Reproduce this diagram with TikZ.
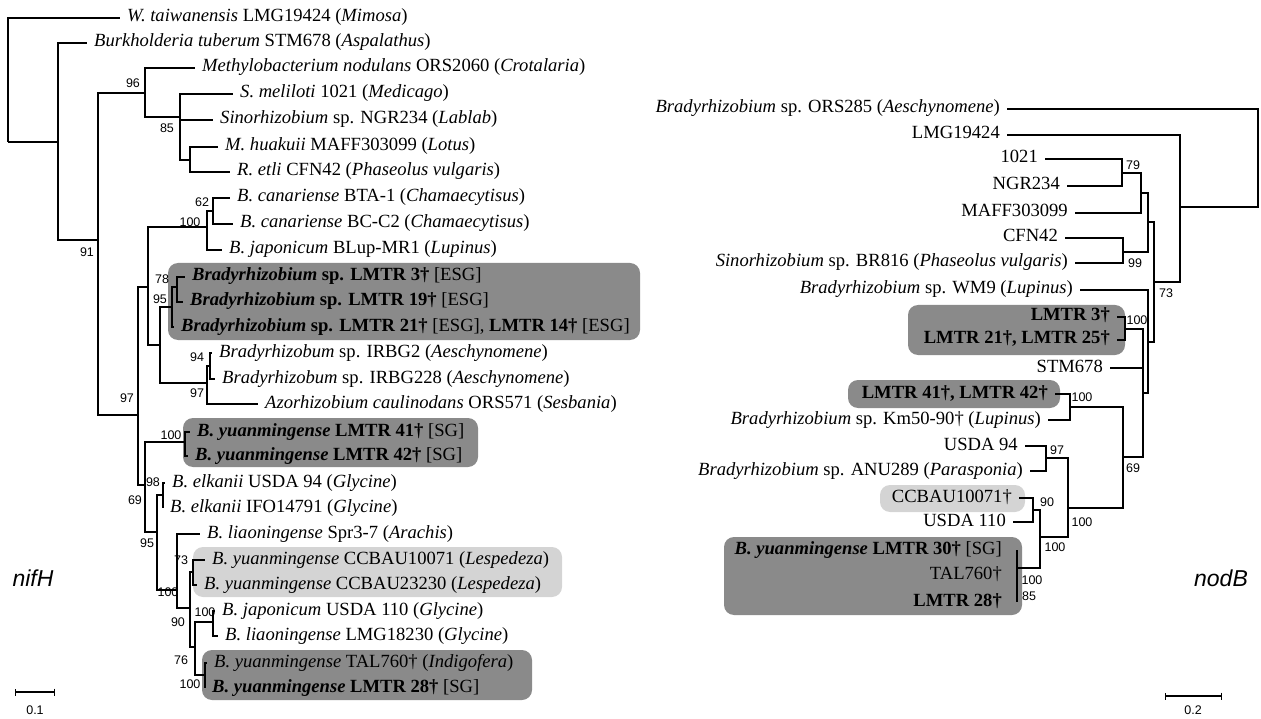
\documentclass[tikz,border=0pt]{standalone}
\usepackage{fontspec}
\setmainfont{Liberation Serif}
\setsansfont{Liberation Sans}
\usepackage{tikz}
\usetikzlibrary{arrows.meta}
\usepackage{xcolor}

\newcommand{\leaffont}{\fontsize{18.6}{21}\selectfont}
\newcommand{\bsfont}{\sffamily\fontsize{12.5}{14}\selectfont}
\definecolor{darkbox}{RGB}{138,138,138}
\definecolor{lightbox}{RGB}{212,212,212}

\tikzset{
  branch/.style={line width=2.7pt},
  leafL/.style={anchor=west, inner xsep=7pt, inner ysep=0pt, text height=12pt, text depth=4pt, font=\leaffont},
  leafR/.style={anchor=east, inner xsep=7pt, inner ysep=0pt, text height=12pt, text depth=4pt, font=\leaffont},
  boot/.style={font=\bsfont, inner sep=0pt},
  cladebox/.style={rounded corners=10pt},
}

\begin{document}
\begin{tikzpicture}[x=1pt,y=-1pt]
    \useasboundingbox (0,0) rectangle (1261,719);

    % Shaded clades, left tree
    \fill[cladebox, darkbox] (168,263) rectangle (640,340);
    \fill[cladebox, darkbox] (183,418) rectangle (478,467);
    \fill[cladebox, lightbox] (193,547) rectangle (562,597);
    \fill[cladebox, darkbox] (202,650) rectangle (532,700);

    % Shaded clades, right tree
    \fill[cladebox, darkbox] (908,305) rectangle (1125,355);
    \fill[cladebox, darkbox] (848,380) rectangle (1060,408);
    \fill[cladebox, lightbox] (880,485) rectangle (1025,512);
    \fill[cladebox, darkbox] (724,537) rectangle (1022,615);

    % nifH leaves
    \node[leafL] (wtai) at (120,18) {\textit{W. taiwanensis} LMG19424 (\textit{Mimosa})};
    \node[leafL] (btub) at (87,43) {\textit{Burkholderia tuberum} STM678 (\textit{Aspalathus})};
    \node[leafL] (mnod) at (195,68) {\textit{Methylobacterium nodulans} ORS2060 (\textit{Crotalaria})};
    \node[leafL] (smel) at (233,94) {\textit{S. meliloti} 1021 (\textit{Medicago})};
    \node[leafL] (sngr) at (213,120) {\textit{Sinorhizobium} sp. NGR234 (\textit{Lablab})};
    \node[leafL] (mhua) at (218,147) {\textit{M. huakuii} MAFF303099 (\textit{Lotus})};
    \node[leafL] (reti) at (230,172) {\textit{R. etli} CFN42 (\textit{Phaseolus vulgaris})};
    \node[leafL] (bcbt) at (230,198) {\textit{B. canariense} BTA-1 (\textit{Chamaecytisus})};
    \node[leafL] (bcbc) at (233,224) {\textit{B. canariense} BC-C2 (\textit{Chamaecytisus})};
    \node[leafL] (bjbl) at (222,250) {\textit{B. japonicum} BLup-MR1 (\textit{Lupinus})};
    \node[leafL] (lm3) at (185,277) {\textbf{\textit{Bradyrhizobium} sp. LMTR 3†} [ESG]};
    \node[leafL] (lm19) at (183,302) {\textbf{\textit{Bradyrhizobium} sp. LMTR 19†} [ESG]};
    \node[leafL] (lm21) at (174,327) {\textbf{\textit{Bradyrhizobium} sp. LMTR 21†} [ESG], \textbf{LMTR 14†} [ESG]};
    \node[leafL] (irb2) at (212,353) {\textit{Bradyrhizobum} sp. IRBG2 (\textit{Aeschynomene})};
    \node[leafL] (irb228) at (215,379) {\textit{Bradyrhizobum} sp. IRBG228 (\textit{Aeschynomene})};
    \node[leafL] (azor) at (258,404) {\textit{Azorhizobium caulinodans} ORS571 (\textit{Sesbania})};
    \node[leafL] (lm41) at (190,432) {\textbf{\textit{B. yuanmingense} LMTR 41†} [SG]};
    \node[leafL] (lm42) at (188,456) {\textbf{\textit{B. yuanmingense} LMTR 42†} [SG]};
    \node[leafL] (bel94) at (165,483) {\textit{B. elkanii} USDA 94 (\textit{Glycine})};
    \node[leafL] (belifo) at (163,508) {\textit{B. elkanii} IFO14791 (\textit{Glycine})};
    \node[leafL] (blspr) at (200,534) {\textit{B. liaoningense} Spr3-7 (\textit{Arachis})};
    \node[leafL] (byc1) at (205,560) {\textit{B. yuanmingense} CCBAU10071 (\textit{Lespedeza})};
    \node[leafL] (byc2) at (197,585) {\textit{B. yuanmingense} CCBAU23230 (\textit{Lespedeza})};
    \node[leafL] (bj110) at (215,611) {\textit{B. japonicum} USDA 110 (\textit{Glycine})};
    \node[leafL] (bllmg) at (218,636) {\textit{B. liaoningense} LMG18230 (\textit{Glycine})};
    \node[leafL] (bytal) at (207,663) {\textit{B. yuanmingense} TAL760† (\textit{Indigofera})};
    \node[leafL] (lm28) at (205,688) {\textbf{\textit{B. yuanmingense} LMTR 28†} [SG]};

    % nifH internal nodes
    \coordinate (nroot) at (8,142);
    \coordinate (nA) at (58,142);
    \coordinate (nB) at (98,240);
    \coordinate (nC) at (145,93);
    \coordinate (nE) at (180,117);
    \coordinate (nF) at (190,160);
    \coordinate (nD) at (138,415);
    \coordinate (nK) at (148,287);
    \coordinate (nCan) at (207,227);
    \coordinate (n62) at (213,211);
    \coordinate (nL) at (160,345);
    \coordinate (nM) at (172,307);
    \coordinate (n78) at (177,287);
    \coordinate (nN) at (207,383);
    \coordinate (n94) at (210,366);
    \coordinate (nH) at (145,485);
    \coordinate (nI) at (185,442);
    \coordinate (nJ) at (157,532);
    \coordinate (n98) at (163,495);
    \coordinate (nP) at (177,590);
    \coordinate (nQ) at (190,608);
    \coordinate (n73) at (193,572);
    \coordinate (nR) at (195,647);
    \coordinate (nUS) at (213,622);
    \coordinate (nTAL) at (205,675);

    % nifH branches
    \draw[branch] (nroot) |- (wtai.west);
    \draw[branch] (nroot) -- (nA);
    \draw[branch] (nA) |- (btub.west);
    \draw[branch] (nA) |- (nB);
    \draw[branch] (nB) |- (nC);
    \draw[branch] (nB) |- (nD);
    \draw[branch] (nC) |- (mnod.west);
    \draw[branch] (nC) |- (nE);
    \draw[branch] (nE) |- (smel.west);
    \draw[branch] (nE) |- (sngr.west);
    \draw[branch] (nE) |- (nF);
    \draw[branch] (nF) |- (mhua.west);
    \draw[branch] (nF) |- (reti.west);
    \draw[branch] (nD) |- (nK);
    \draw[branch] (nD) |- (nH);
    \draw[branch] (nK) |- (nCan);
    \draw[branch] (nK) |- (nL);
    \draw[branch] (nCan) |- (n62);
    \draw[branch] (nCan) |- (bjbl.west);
    \draw[branch] (n62) |- (bcbt.west);
    \draw[branch] (n62) |- (bcbc.west);
    \draw[branch] (nL) |- (nM);
    \draw[branch] (nL) |- (nN);
    \draw[branch] (nM) |- (n78);
    \draw[branch] (nM) |- (lm21.west);
    \draw[branch] (n78) |- (lm3.west);
    \draw[branch] (n78) |- (lm19.west);
    \draw[branch] (nN) |- (n94);
    \draw[branch] (nN) |- (azor.west);
    \draw[branch] (n94) |- (irb2.west);
    \draw[branch] (n94) |- (irb228.west);
    \draw[branch] (nH) |- (nI);
    \draw[branch] (nH) |- (nJ);
    \draw[branch] (nI) |- (lm41.west);
    \draw[branch] (nI) |- (lm42.west);
    \draw[branch] (nJ) |- (n98);
    \draw[branch] (nJ) |- (nP);
    \draw[branch] (n98) |- (bel94.west);
    \draw[branch] (n98) |- (belifo.west);
    \draw[branch] (nP) |- (blspr.west);
    \draw[branch] (nP) |- (nQ);
    \draw[branch] (nQ) |- (n73);
    \draw[branch] (nQ) |- (nR);
    \draw[branch] (n73) |- (byc1.west);
    \draw[branch] (n73) |- (byc2.west);
    \draw[branch] (nR) |- (nUS);
    \draw[branch] (nR) |- (nTAL);
    \draw[branch] (nUS) |- (bj110.west);
    \draw[branch] (nUS) |- (bllmg.west);
    \draw[branch] (nTAL) |- (bytal.west);
    \draw[branch] (nTAL) |- (lm28.west);

    % nifH bootstrap values
    \node[boot] (b96) at (133,83) {96};
    \node[boot] (b85) at (167,128) {85};
    \node[boot] (b91) at (87,252) {91};
    \node[boot] (b62) at (202,202) {62};
    \node[boot] (b100can) at (190,222) {100};
    \node[boot] (b78) at (162,279) {78};
    \node[boot] (b95a) at (160,299) {95};
    \node[boot] (b94) at (197,357) {94};
    \node[boot] (b97a) at (197,393) {97};
    \node[boot] (b97b) at (127,398) {97};
    \node[boot] (b100lm) at (171,435) {100};
    \node[boot] (b98) at (153,482) {98};
    \node[boot] (b69) at (135,500) {69};
    \node[boot] (b95b) at (147,543) {95};
    \node[boot] (b73) at (181,560) {73};
    \node[boot] (b100p) at (168,592) {100};
    \node[boot] (b100us) at (205,612) {100};
    \node[boot] (b90) at (178,622) {90};
    \node[boot] (b76) at (181,660) {76};
    \node[boot] (b100tal) at (190,684) {100};

    % nodB leaves
    \node[leafR] (ors285) at (1007,109) {\textit{Bradyrhizobium} sp. ORS285 (\textit{Aeschynomene})};
    \node[leafR] (lmg) at (1007,135) {LMG19424};
    \node[leafR] (s1021) at (1045,159) {1021};
    \node[leafR] (ngr) at (1067,186) {NGR234};
    \node[leafR] (maff) at (1075,213) {MAFF303099};
    \node[leafR] (cfn) at (1065,238) {CFN42};
    \node[leafR] (br816) at (1075,263) {\textit{Sinorhizobium} sp. BR816 (\textit{Phaseolus vulgaris})};
    \node[leafR] (wm9) at (1080,290) {\textit{Bradyrhizobium} sp. WM9 (\textit{Lupinus})};
    \node[leafR] (rl3) at (1117,317) {\textbf{LMTR 3†}};
    \node[leafR] (rl21) at (1117,340) {\textbf{LMTR 21†, LMTR 25†}};
    \node[leafR] (stm) at (1110,368) {STM678};
    \node[leafR] (rl41) at (1055,394) {\textbf{LMTR 41†, LMTR 42†}};
    \node[leafR] (km50) at (1048,420) {\textit{Bradyrhizobium} sp. Km50-90† (\textit{Lupinus})};
    \node[leafR] (us94) at (1025,446) {USDA 94};
    \node[leafR] (anu) at (1030,471) {\textit{Bradyrhizobium} sp. ANU289 (\textit{Parasponia})};
    \node[leafR] (rcc) at (1019,498) {CCBAU10071†};
    \node[leafR] (us110) at (1013,522) {USDA 110};
    \node[leafR, inner xsep=15pt] (rl30) at (1017,550) {\textbf{\textit{B. yuanmingense} LMTR 30†} [SG]};
    \node[leafR, inner xsep=15pt] (rtal) at (1017,575) {TAL760†};
    \node[leafR, inner xsep=15pt] (rl28) at (1017,602) {\textbf{LMTR 28†}};

    % nodB internal nodes
    \coordinate (rroot) at (1258,158);
    \coordinate (rX1) at (1180,207);
    \coordinate (rY3) at (1154,282);
    \coordinate (rY2) at (1148,222);
    \coordinate (rY1) at (1141,193);
    \coordinate (r79) at (1122,173);
    \coordinate (r99) at (1123,252);
    \coordinate (rZ) at (1148,342);
    \coordinate (r100a) at (1125,329);
    \coordinate (rW) at (1143,393);
    \coordinate (rV) at (1123,457);
    \coordinate (rU) at (1070,407);
    \coordinate (rT) at (1068,508);
    \coordinate (r97) at (1046,458);
    \coordinate (rS) at (1040,537);
    \coordinate (r90) at (1033,510);
    \coordinate (rG) at (1017,568);

    % nodB branches
    \draw[branch] (rroot) |- (ors285.east);
    \draw[branch] (rroot) |- (rX1);
    \draw[branch] (rX1) |- (lmg.east);
    \draw[branch] (rX1) |- (rY3);
    \draw[branch] (rY3) |- (rY2);
    \draw[branch] (rY3) |- (rZ);
    \draw[branch] (rY2) |- (rY1);
    \draw[branch] (rY2) |- (r99);
    \draw[branch] (rY1) |- (r79);
    \draw[branch] (rY1) |- (maff.east);
    \draw[branch] (r79) |- (s1021.east);
    \draw[branch] (r79) |- (ngr.east);
    \draw[branch] (r99) |- (cfn.east);
    \draw[branch] (r99) |- (br816.east);
    \draw[branch] (rZ) |- (wm9.east);
    \draw[branch] (rZ) |- (rW);
    \draw[branch] (rW) |- (r100a);
    \draw[branch] (rW) |- (stm.east);
    \draw[branch] (rW) |- (rV);
    \draw[branch] (r100a) |- (rl3.east);
    \draw[branch] (r100a) |- (rl21.east);
    \draw[branch] (rV) |- (rU);
    \draw[branch] (rV) |- (rT);
    \draw[branch] (rU) |- (rl41.east);
    \draw[branch] (rU) |- (km50.east);
    \draw[branch] (rT) |- (r97);
    \draw[branch] (rT) |- (rS);
    \draw[branch] (r97) |- (us94.east);
    \draw[branch] (r97) |- (anu.east);
    \draw[branch] (rS) |- (r90);
    \draw[branch] (rS) |- (rG);
    \draw[branch] (r90) |- (rcc.east);
    \draw[branch] (r90) |- (us110.east);
    \draw[branch] (rG) |- (rl30.east);
    \draw[branch] (rG) |- (rtal.east);
    \draw[branch] (rG) |- (rl28.east);

    % nodB bootstrap values
    \node[boot] (c79) at (1133,165) {79};
    \node[boot] (c99) at (1135,263) {99};
    \node[boot] (c73) at (1166,293) {73};
    \node[boot] (c100a) at (1137,320) {100};
    \node[boot] (c100b) at (1082,397) {100};
    \node[boot] (c69) at (1133,468) {69};
    \node[boot] (c97) at (1057,450) {97};
    \node[boot] (c90) at (1047,502) {90};
    \node[boot] (c100c) at (1082,522) {100};
    \node[boot] (c100d) at (1055,547) {100};
    \node[boot] (c100e) at (1032,580) {100};
    \node[boot] (c85) at (1029,596) {85};

    % Gene names and scale bars
    \node[font=\sffamily\itshape\fontsize{23}{26}\selectfont] (gnif) at (33,578) {nifH};
    \node[font=\sffamily\itshape\fontsize{23}{26}\selectfont] (gnod) at (1221,578) {nodB};
    \coordinate (sl1) at (15,692);
    \coordinate (sl2) at (55,692);
    \draw[line width=1.2pt, {Bar[width=7pt]}-{Bar[width=7pt]}] (sl1) -- (sl2);
    \node[boot] (s01) at (35,710) {0.1};
    \coordinate (sr1) at (1165,696);
    \coordinate (sr2) at (1222,696);
    \draw[line width=1.2pt, {Bar[width=7pt]}-{Bar[width=7pt]}] (sr1) -- (sr2);
    \node[boot] (s02) at (1193,710) {0.2};
\end{tikzpicture}
\end{document}
